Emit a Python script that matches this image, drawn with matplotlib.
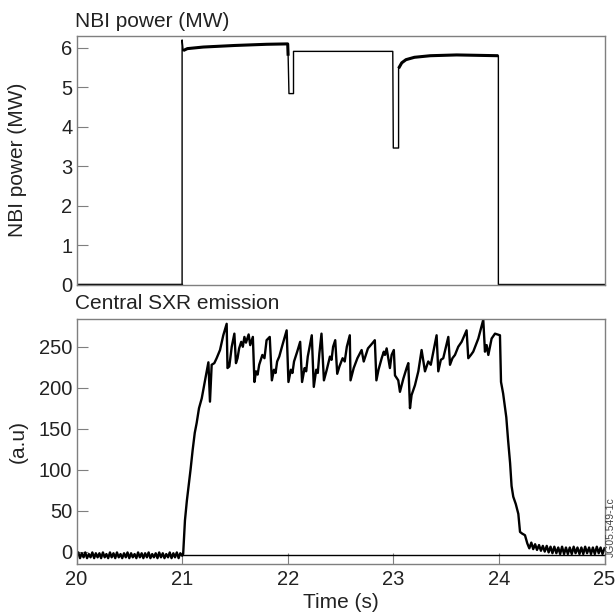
import matplotlib
matplotlib.use('Agg')
import matplotlib.pyplot as plt

plt.rcParams['font.family'] = ['Liberation Sans', 'DejaVu Sans']

# NBI power trace (s, MW)
nbi_t = [20.0, 21.0, 21.0, 21.01, 21.05, 21.2, 21.5, 21.8, 22.0, 22.004, 22.012,
         22.055, 22.055, 22.995, 23.0, 23.05, 23.05, 23.08, 23.12, 23.2, 23.35, 23.6,
         23.995, 23.995, 25.0]
nbi_p = [0.0, 0.0, 6.2, 5.93, 5.98, 6.02, 6.06, 6.09, 6.1, 5.8, 4.84,
         4.84, 5.91, 5.91, 3.46, 3.46, 5.48, 5.62, 5.7, 5.76, 5.8, 5.82,
         5.8, 0.0, 0.0]
nbi_noisy = [(3, 10), (16, 23)]   # stretches drawn heavier (beam ripple)

# central SXR emission (s, a.u.)
pre_t = [20.000, 20.017, 20.033, 20.050, 20.067, 20.083, 20.100, 20.117, 20.133, 20.150,
         20.167, 20.183, 20.200, 20.217, 20.233, 20.250, 20.267, 20.283, 20.300, 20.317,
         20.333, 20.350, 20.367, 20.383, 20.400, 20.417, 20.433, 20.450, 20.467, 20.483,
         20.500, 20.517, 20.533, 20.550, 20.567, 20.583, 20.600, 20.617, 20.633, 20.650,
         20.667, 20.683, 20.700, 20.717, 20.733, 20.750, 20.767, 20.783, 20.800, 20.817,
         20.833, 20.850, 20.867, 20.883, 20.900, 20.917, 20.933, 20.950, 20.967, 20.983]
pre_v = [-4, -1, -8, -2, -7, -1, -8, -3, -7, -1, -8, -2, -7, -2, -8, -1, -7, -3, -8, -1,
         -7, -2, -8, -1, -7, -3, -8, -2, -7, -1, -8, -2, -7, -3, -8, -1, -7, -2, -8, -2,
         -7, -1, -8, -3, -7, -2, -8, -1, -7, -2, -8, -3, -7, -1, -8, -2, -7, -1, -8, -2]

main_t = [21.000, 21.010, 21.027, 21.045, 21.060, 21.080, 21.100, 21.120, 21.138, 21.160,
          21.186, 21.205, 21.223, 21.249, 21.264, 21.280, 21.305, 21.327, 21.359, 21.390,
          21.422, 21.430, 21.447, 21.470, 21.495, 21.510, 21.525, 21.540, 21.560, 21.575,
          21.590, 21.605, 21.630, 21.645, 21.670, 21.685, 21.700, 21.715, 21.730, 21.760,
          21.780, 21.800, 21.830, 21.850, 21.870, 21.885, 21.900, 21.920, 21.950, 21.990,
          22.007, 22.030, 22.045, 22.060, 22.090, 22.118, 22.136, 22.160, 22.175, 22.190,
          22.228, 22.247, 22.270, 22.285, 22.300, 22.320, 22.343, 22.370, 22.400, 22.415,
          22.430, 22.450, 22.469, 22.490, 22.520, 22.540, 22.560, 22.588, 22.595, 22.625,
          22.660, 22.700, 22.720, 22.760, 22.800, 22.825, 22.840, 22.860, 22.890, 22.910,
          22.921, 22.937, 22.968, 22.984, 23.005, 23.016, 23.047, 23.063, 23.095, 23.126,
          23.142, 23.158, 23.173, 23.205, 23.237, 23.268, 23.300, 23.331, 23.355, 23.379,
          23.410, 23.426, 23.450, 23.473, 23.521, 23.537, 23.560, 23.584, 23.615, 23.647,
          23.694, 23.710, 23.735, 23.757, 23.805, 23.852, 23.868, 23.884, 23.900, 23.931,
          23.963, 24.010, 24.020, 24.040, 24.070, 24.087, 24.106, 24.120, 24.136, 24.160,
          24.184, 24.200, 24.220, 24.247, 24.269]
main_v = [-5, -3, 38, 62, 78, 100, 124, 145, 157, 175,
          187, 200, 213, 231, 183, 228, 230, 236, 246, 264,
          278, 224, 226, 250, 266, 230, 236, 248, 256, 250,
          262, 255, 265, 252, 262, 207, 220, 216, 228, 240,
          236, 258, 262, 209, 222, 218, 232, 238, 252, 270,
          207, 222, 218, 232, 244, 256, 207, 224, 220, 238,
          264, 201, 222, 218, 242, 266, 209, 222, 238, 234,
          250, 258, 217, 226, 236, 232, 250, 264, 209, 224,
          236, 246, 232, 248, 254, 258, 209, 222, 236, 244,
          240, 248, 224, 240, 246, 215, 209, 195, 211, 224,
          230, 175, 191, 203, 220, 246, 220, 232, 228, 244,
          264, 220, 234, 236, 262, 228, 236, 240, 250, 256,
          270, 236, 240, 244, 260, 283, 244, 252, 240, 260,
          266, 264, 207, 193, 164, 136, 108, 80, 67, 58,
          46, 24, 22, 20, 10]

post_t = [24.288, 24.307, 24.325, 24.343, 24.361, 24.380, 24.398, 24.416, 24.434, 24.453,
          24.471, 24.489, 24.507, 24.525, 24.544, 24.562, 24.580, 24.598, 24.617, 24.635,
          24.653, 24.671, 24.690, 24.708, 24.726, 24.744, 24.763, 24.781, 24.799, 24.817,
          24.835, 24.854, 24.872, 24.890, 24.908, 24.927, 24.945, 24.963, 24.981, 25.000]
post_v = [4, 11, 3, 9, 2, 8, 1, 7, 0, 7, -1, 6, -2, 6, -2, 5, -3, 6, -3, 5,
          -3, 5, -3, 6, -2, 5, -3, 5, -3, 6, -2, 5, -3, 5, -3, 6, -2, 5, -3, 4]

base_t = [21.0, 25.0]
base_v = [-4, -4]

gray = '#7f7f7f'
txt = '#222222'
fs = 14.5
fs_title = 15

fig = plt.figure(figsize=(6.15, 6.14), dpi=100)
W, H = 615.0, 614.0
ax1 = fig.add_axes([76.5 / W, 1 - 284.5 / H, 528 / W, 248.5 / H])
ax2 = fig.add_axes([76.5 / W, 1 - 564.3 / H, 528 / W, 245 / H])

# top panel
ax1.plot(nbi_t, nbi_p, color='black', lw=1.0)
for a, b in nbi_noisy:
    ax1.plot(nbi_t[a:b], nbi_p[a:b], color='black', lw=2.2, solid_capstyle='butt')
ax1.plot([20.0, 21.0], [0.0, 0.0], color='black', lw=1.6)
ax1.set_xlim(20, 25)
ax1.set_ylim(0, 6.3)
ax1.set_yticks([0, 1, 2, 3, 4, 5, 6])
ax1.set_xticks([])
ax1.set_ylabel('NBI power (MW)', fontsize=fs_title, color=txt)
ax1.set_title('NBI power (MW)', loc='left', fontsize=fs_title, color=txt, pad=6.5, x=-0.003)

# bottom panel
ax2.plot(base_t, base_v, color='black', lw=1.0)
ax2.plot(pre_t + main_t + post_t, pre_v + main_v + post_v, color='black', lw=1.7)
ax2.set_xlim(20, 25)
ax2.set_ylim(-15.5, 283.5)
ax2.set_yticks([0, 50, 100, 150, 200, 250])
ax2.set_xticks([20, 21, 22, 23, 24, 25])
ax2.set_ylabel('(a.u)', fontsize=fs_title, color=txt)
ax2.set_xlabel('Time (s)', fontsize=fs_title, color=txt, labelpad=3)
ax2.set_title('Central SXR emission', loc='left', fontsize=fs_title, color=txt, pad=7.5, x=-0.003)

for ax in (ax1, ax2):
    for s in ax.spines.values():
        s.set_color(gray)
        s.set_linewidth(1.0)
    ax.tick_params(axis='both', direction='in', length=8, width=0.8, color=gray,
                   labelsize=fs, labelcolor=txt, pad=3)
    ax.yaxis.set_label_coords(-0.093, 0.5)
ax2.tick_params(axis='x', pad=4)

fig.text(606 / W, 1 - 557 / H, 'JG05.549-1c', rotation=90, ha='left', va='bottom',
         fontsize=7.5, color='#444444')

fig.savefig('out.png', dpi=100)
